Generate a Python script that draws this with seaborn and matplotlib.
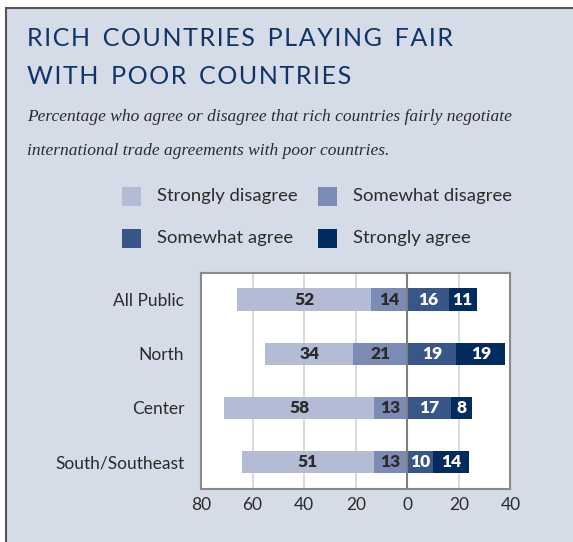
import matplotlib
matplotlib.use('Agg')
import matplotlib.pyplot as plt
import seaborn as sns
import pandas as pd
from matplotlib.patches import Rectangle

# Data
regions = ["All Public", "North", "Center", "South/Southeast"]
strongly_disagree = [52, 34, 58, 51]
somewhat_disagree = [14, 21, 13, 13]
somewhat_agree = [16, 19, 17, 10]
strongly_agree = [11, 19, 8, 14]
categories = ["Strongly disagree", "Somewhat disagree", "Somewhat agree", "Strongly agree"]
x_ticks = [-80, -60, -40, -20, 0, 20, 40]
x_tick_labels = ["80", "60", "40", "20", "0", "20", "40"]

colors = {
    "Strongly disagree": "#b3bbd5",
    "Somewhat disagree": "#7b8bb3",
    "Somewhat agree": "#385687",
    "Strongly agree": "#022b60",
}
panel_bg = "#d5dbe7"
navy = "#0f3466"
text_dark = "#2b2b2b"

sns.set_theme(style="white")
plt.rcParams['font.family'] = ['Lato', 'DejaVu Sans']

df = pd.DataFrame({
    "region": regions,
    "sd": strongly_disagree,
    "swd": somewhat_disagree,
    "swa": somewhat_agree,
    "sa": strongly_agree,
})
df["neg_total"] = -(df["sd"] + df["swd"])
df["neg_inner"] = -df["swd"]
df["pos_total"] = df["swa"] + df["sa"]
df["pos_inner"] = df["swa"]


def spaced(s):
    # widen tracking a bit, like the original caps title
    return "  ".join("\u200a".join(w) for w in s.split(" "))


fig = plt.figure(figsize=(5.73, 5.42), dpi=100)
fig.patch.set_facecolor("white")

# outer panel
fig.patches.append(Rectangle((6 / 573, -0.01), 1.0, 1 - 8 / 542 + 0.01,
                             transform=fig.transFigure, facecolor=panel_bg,
                             edgecolor="#555555", linewidth=1.5, zorder=0))

ax = fig.add_axes([201 / 573, 1 - 489 / 542, 309.5 / 573, 216.5 / 542])
ax.set_zorder(5)
ax.set_facecolor("white")

# gridlines behind bars
for t in x_ticks[1:-1]:
    if t != 0:
        ax.axvline(t, color="#d4d4d4", linewidth=1.2, zorder=0)

# stacked via overlaid cumulative bars
layers = [("neg_total", "Strongly disagree"), ("neg_inner", "Somewhat disagree"),
          ("pos_total", "Strongly agree"), ("pos_inner", "Somewhat agree")]
for col, cat in layers:
    sns.barplot(data=df, x=col, y="region", order=regions, orient="h",
                color=colors[cat], saturation=1, width=0.41, errorbar=None,
                linewidth=0, ax=ax, zorder=2)

ax.axvline(0, color="#808080", linewidth=1.5, zorder=3)

# value labels
for i, row in df.iterrows():
    segs = [(-row["sd"] / 2 - row["swd"], row["sd"], text_dark),
            (-row["swd"] / 2, row["swd"], text_dark),
            (row["swa"] / 2, row["swa"], "white"),
            (row["swa"] + row["sa"] / 2, row["sa"], "white")]
    for xc, v, c in segs:
        ax.text(xc, i, f"{v}", ha="center", va="center", color=c,
                fontsize=12.5, fontweight="heavy", zorder=4)

ax.set_xlim(-80, 40)
ax.set_ylim(len(regions) - 0.5, -0.5)
ax.set_xticks(x_ticks)
ax.set_xticklabels(x_tick_labels)
ax.set_xlabel("")
ax.set_ylabel("")
ax.tick_params(axis="both", length=0, labelsize=12.5, colors=text_dark, pad=6)
ax.tick_params(axis="y", pad=12)
for s in ax.spines.values():
    s.set_color("#8a8a8a")
    s.set_linewidth(1.5)

# title and subtitle
fig.text(27 / 573, 1 - 39 / 542, spaced("RICH COUNTRIES PLAYING FAIR"),
         ha="left", va="center", fontsize=18, color=navy)
fig.text(27 / 573, 1 - 76 / 542, spaced("WITH POOR COUNTRIES"),
         ha="left", va="center", fontsize=18, color=navy)
fig.text(27 / 573, 1 - 117 / 542,
         "Percentage who agree or disagree that rich countries fairly negotiate",
         ha="left", va="center", fontsize=12.5, style="italic", color=text_dark,
         family="Liberation Serif")
fig.text(27 / 573, 1 - 151 / 542,
         "international trade agreements with poor countries.",
         ha="left", va="center", fontsize=12.5, style="italic", color=text_dark,
         family="Liberation Serif")

# legend
leg_pos = [(122, 196), (318, 196), (122, 238), (318, 238)]
for cat, (lx, ly) in zip(categories, leg_pos):
    fig.patches.append(Rectangle((lx / 573, 1 - (ly + 9.5) / 542), 19 / 573, 19 / 542,
                                 transform=fig.transFigure, facecolor=colors[cat],
                                 edgecolor="none", zorder=1))
    fig.text((lx + 35) / 573, 1 - ly / 542, cat, ha="left", va="center",
             fontsize=13.3, color=text_dark)

fig.savefig("out.png", dpi=100, facecolor=fig.get_facecolor())
